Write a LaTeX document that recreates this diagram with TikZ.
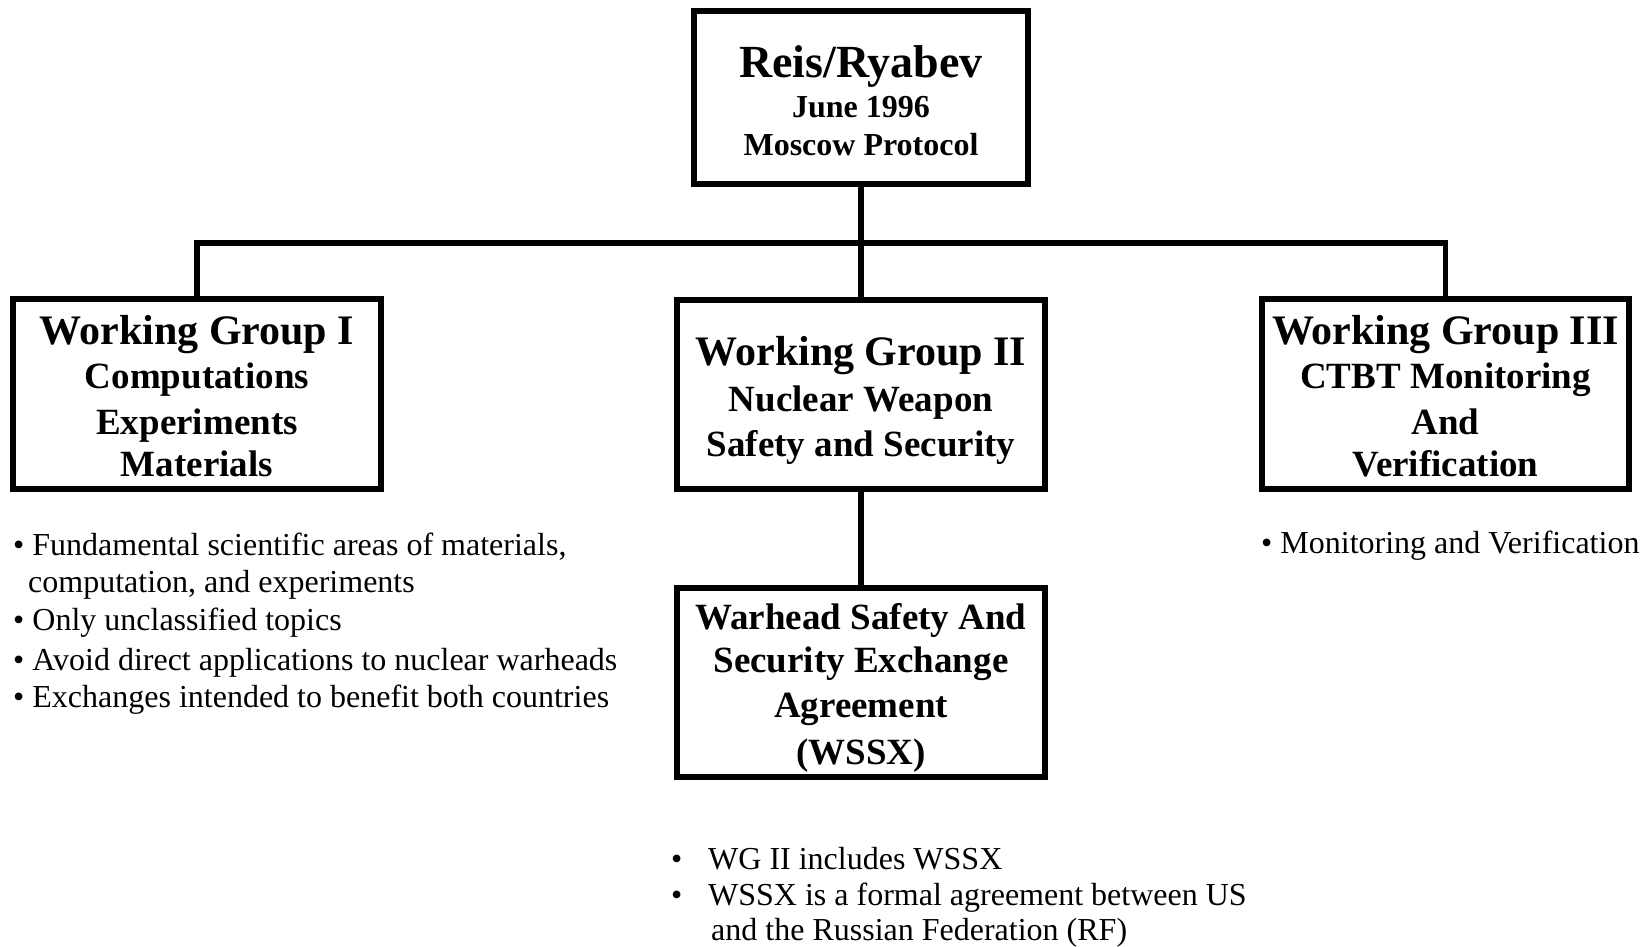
\documentclass[tikz,border=0pt]{standalone}
\usepackage{fontspec}
\setmainfont{Liberation Serif}
\begin{document}
\begin{tikzpicture}[x=1pt,y=-1pt,
  box/.style={draw, line width=6pt, inner sep=0pt},
  link/.style={line width=5.5pt},
  title/.style={font=\fontsize{46}{52}\selectfont\bfseries, inner sep=0pt, anchor=base},
  head/.style={font=\fontsize{42}{48}\selectfont\bfseries, inner sep=0pt, anchor=base},
  sub/.style={font=\fontsize{37}{44}\selectfont\bfseries, inner sep=0pt, anchor=base},
  small/.style={font=\fontsize{32}{38}\selectfont\bfseries, inner sep=0pt, anchor=base},
  note/.style={font=\fontsize{32}{38}\selectfont, inner sep=0pt, anchor=base west}]
\useasboundingbox[fill=white] (0,0) rectangle (1649,947);

% boxes
\node[box, minimum width=334pt, minimum height=173pt] (top) at (861,97.5) {};
\node[box, minimum width=368pt, minimum height=190pt] (wg1) at (197,394) {};
\node[box, minimum width=368pt, minimum height=189pt] (wg2) at (861,394.5) {};
\node[box, minimum width=367pt, minimum height=190pt] (wg3) at (1445.5,394) {};
\node[box, minimum width=368pt, minimum height=189pt] (wssx) at (861,682.5) {};

% box texts
\node[title] (t1) at (861,78) {Reis/Ryabev};
\node[small] (t2) at (861,118) {June 1996};
\node[small] (t3) at (861,155) {Moscow Protocol};

\node[head] (a1) at (197,344) {Working Group I};
\node[sub] (a2) at (197,388) {Computations};
\node[sub] (a3) at (197,434) {Experiments};
\node[sub] (a4) at (197,476) {Materials};

\node[head] (b1) at (861,365) {Working Group II};
\node[sub] (b2) at (861,411) {Nuclear Weapon};
\node[sub] (b3) at (861,456) {Safety and Security};

\node[head] (c1) at (1445.5,344) {Working Group III};
\node[sub] (c2) at (1445.5,388) {CTBT Monitoring};
\node[sub] (c3) at (1445.5,434) {And};
\node[sub] (c4) at (1445.5,476) {Verification};

\node[sub] (d1) at (861,629) {Warhead Safety And};
\node[sub] (d2) at (861,672) {Security Exchange};
\node[sub] (d3) at (861,717) {Agreement};
\node[sub] (d4) at (861,764) {(WSSX)};

% connectors
\coordinate (j) at (861,243);
\draw[link] (top.south) -- (j);
\draw[link] (wg1.north) |- (j) -| (wg3.north);
\draw[link] (j) -- (wg2.north);
\draw[link] (wg2.south) -- (wssx.north);

% notes
\node[note] (n1) at (13,555) {• Fundamental scientific areas of materials,};
\node[note] (n2) at (28,592) {computation, and experiments};
\node[note] (n3) at (13,630) {• Only unclassified topics};
\node[note] (n4) at (13,670) {• Avoid direct applications to nuclear warheads};
\node[note] (n5) at (13,707) {• Exchanges intended to benefit both countries};

\node[note] (m1) at (1261,553) {• Monitoring and Verification};

\node[note] (p1) at (671,869) {•\hspace{25.8pt}WG II includes WSSX};
\node[note] (p2) at (671,905) {•\hspace{25.8pt}WSSX is a formal agreement between US};
\node[note] (p3) at (711,940) {and the Russian Federation (RF)};
\end{tikzpicture}
\end{document}
